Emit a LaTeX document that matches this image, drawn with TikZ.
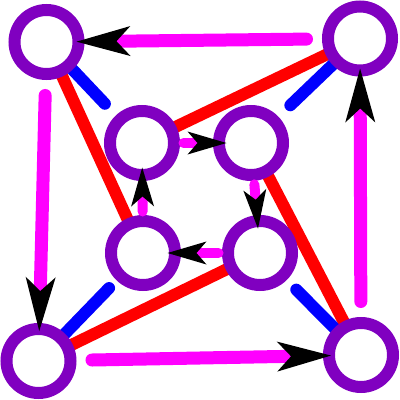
\documentclass[tikz,border=0pt]{standalone}
\usetikzlibrary{arrows.meta,calc,backgrounds}
\definecolor{nodepurple}{RGB}{128,0,192}
\definecolor{edgemag}{RGB}{255,0,255}
\begin{document}
\begin{tikzpicture}[x=1pt,y=-1pt,
  vnode/.style={circle,draw=nodepurple,line width=12pt,fill=white,minimum size=64pt,inner sep=0pt,outer sep=0pt},
  outerarc/.style={draw=edgemag,line width=13pt,line cap=round,shorten <=21.5pt,shorten >=-2pt,
    -{Stealth[length=54pt,width=30pt,inset=14pt,line width=0pt,color=black]}},
  innerarc/.style={draw=edgemag,line width=10pt,line cap=round,shorten <=9.5pt,shorten >=-7.5pt,
    -{Stealth[length=39pt,width=23pt,inset=10pt,line width=0pt,color=black]}},
  redline/.style={draw=red,line width=12pt},
  blueline/.style={draw=blue,line width=12pt,line cap=round}]
\useasboundingbox (0,0) rectangle (400,400);
% nodes
\node[vnode] (oTL) at (46.5,42) {};
\node[vnode] (oTR) at (360,38.5) {};
\node[vnode] (oBL) at (38.5,361) {};
\node[vnode] (oBR) at (361,355) {};
\node[vnode] (iTL) at (142,143) {};
\node[vnode] (iTR) at (251,143) {};
\node[vnode] (iBL) at (143,253) {};
\node[vnode] (iBR) at (260,253) {};
% red and blue lines behind the nodes
\begin{scope}[on background layer]
\draw[redline] (oTL.center) -- (iBL.center);
\draw[redline] (oTR.center) -- (iTL.center);
\draw[redline] (oBL.center) -- (iBR.center);
\draw[redline] (oBR.center) -- (iTR.center);
\coordinate (bTL) at ($(oTL.center)!85pt!(iTL.center)$);
\coordinate (bTR) at ($(oTR.center)!96.5pt!(iTR.center)$);
\coordinate (bBL) at ($(oBL.center)!101.5pt!(iBL.center)$);
\coordinate (bBR) at ($(oBR.center)!92pt!(iBR.center)$);
\draw[blueline] (oTL.center) -- (bTL);
\draw[blueline] (oTR.center) -- (bTR);
\draw[blueline] (oBL.center) -- (bBL);
\draw[blueline] (oBR.center) -- (bBR);
\end{scope}
% magenta arcs
\draw[outerarc] (oTR) -- (oTL);
\draw[outerarc] (oBR) -- (oTR);
\draw[outerarc] (oBL) -- (oBR);
\draw[outerarc] (oTL) -- (oBL);
\draw[innerarc] (iTL) -- (iTR);
\draw[innerarc] (iTR) -- (iBR);
\draw[innerarc] (iBR) -- (iBL);
\draw[innerarc] (iBL) -- (iTL);
\end{tikzpicture}
\end{document}
